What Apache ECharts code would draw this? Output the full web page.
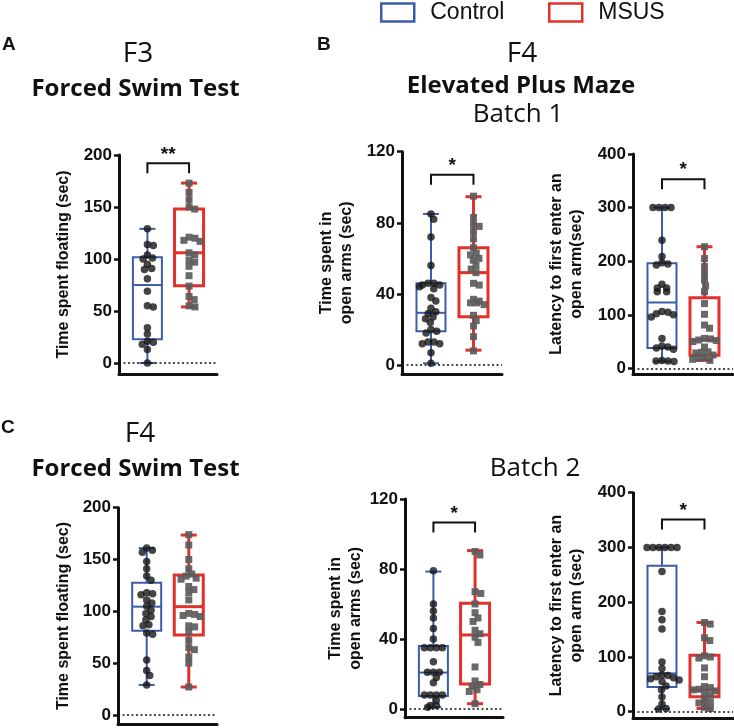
<!DOCTYPE html>
<html><head><meta charset="utf-8">
<script src="https://cdn.jsdelivr.net/npm/echarts@6/dist/echarts.min.js"></script>
<style>html,body{margin:0;padding:0;background:#fff}#c{width:734px;height:728px}</style>
</head><body><div id="c"></div>
<script>
const groups = ['Control', 'MSUS'];

// Tick labels
const ticksFst = [0, 50, 100, 150, 200];
const ticksTime = [0, 40, 80, 120];
const ticksLatency = [0, 100, 200, 300, 400];

// A: F3 Forced Swim Test - time spent floating (sec)
const fstF3Control = [129, 114, 113, 104, 101, 100, 95, 91, 90, 81, 69, 55, 54, 34, 28, 21, 20, 18, 13, 0];
const fstF3Msus = [173, 164, 157, 150, 148, 121, 120, 118, 117, 106, 104, 99, 97, 93, 84, 74, 64, 61, 55, 54];
// box: [min, Q1, median, Q3, max]
const fstF3ControlBox = [0, 22.8, 75, 101.6, 129];
const fstF3MsusBox = [54, 74.4, 106, 148, 173];

// B: F4 Elevated Plus Maze, Batch 1 - time in open arms (sec)
const epm1TimeControl = [85, 82, 72, 56, 46, 46, 45, 45, 44, 43, 38, 36, 32, 30, 29, 27, 26, 24, 20, 19, 18, 13, 13, 12, 12, 7, 1];
const epm1TimeMsus = [95, 83, 79, 78, 75, 71, 66, 63, 62, 60, 59, 56, 54, 52, 46, 45, 37, 36, 35, 35, 34, 28, 25, 22, 16, 8];
const epm1TimeControlBox = [1, 19, 29.4, 46, 85];
const epm1TimeMsusBox = [8.4, 27.2, 52, 66, 94.7];

// B: Batch 1 - latency to first enter an open arm (sec)
const epm1LatControl = [300, 300, 300, 300, 239, 209, 197, 195, 193, 157, 150, 150, 143, 143, 106, 105, 102, 100, 96, 56, 42, 40, 38, 36, 15, 14, 14, 13];
const epm1LatMsus = [227, 205, 190, 177, 165, 154, 143, 121, 101, 81, 75, 56, 55, 53, 52, 50, 40, 31, 30, 29, 25, 20, 19, 17, 15];
const epm1LatControlBox = [13, 38, 123, 196, 300];
const epm1LatMsusBox = [15, 24.8, 53.5, 131.7, 227];

// C: F4 Forced Swim Test - time spent floating (sec)
const fstF4Control = [161, 159, 157, 148, 141, 134, 130, 118, 117, 116, 111, 108, 105, 101, 98, 95, 92, 87, 86, 79, 78, 53, 43, 38, 29];
const fstF4Msus = [174, 164, 150, 141, 136, 134, 132, 131, 124, 121, 118, 111, 98, 97, 96, 95, 86, 85, 80, 72, 65, 63, 56, 50, 27];
const fstF4ControlBox = [29, 81.3, 104.5, 127.6, 161];
const fstF4MsusBox = [27, 77.1, 104.5, 135, 173.6];

// Batch 2 - time in open arms (sec)
const epm2TimeControl = [79, 60, 56, 52, 46, 40, 35, 35, 35, 35, 27, 21, 21, 21, 18, 15, 8, 8, 8, 8, 5, 2, 2, 1];
const epm2TimeMsus = [90, 88, 67, 66, 60, 55, 52, 50, 45, 43, 41, 38, 24, 16, 14, 13, 11, 10, 3];
const epm2TimeControlBox = [1, 7.4, 20.8, 36, 78.5];
const epm2TimeMsusBox = [3, 14.3, 42.3, 60.4, 90.5];

// Batch 2 - latency to first enter an open arm (sec)
const epm2LatControl = [300, 300, 300, 300, 300, 300, 256, 183, 168, 151, 91, 79, 67, 66, 64, 62, 60, 58, 55, 47, 40, 27, 14, 6, 5];
const epm2LatMsus = [163, 160, 135, 130, 102, 100, 98, 80, 64, 46, 44, 41, 40, 38, 33, 31, 20, 18, 16, 8, 6];
const epm2LatControlBox = [5, 45, 70, 266.7, 300];
const epm2LatMsusBox = [6, 27.4, 40, 103, 163];

// significance brackets (height in axis units) and labels
const sigHeights = [192, 107, 353, null, 106.5, 351];
const sigLabels = ['**', '*', '*', '', '*', '*'];

const BLUE = '#3d5ca8', RED = '#e3302a', INK = '#111';
const XMIN = -0.682, XMAX = 1.671;

const panels = [
  {grid: {left: 119, top: 155, width: 98, height: 219}, yMin: -10.5, yMax: 200, ticks: ticksFst,
   name: 'Time spent floating (sec)', nameGap: 45, ctrl: fstF3Control, msus: fstF3Msus, cBox: fstF3ControlBox, mBox: fstF3MsusBox},
  {grid: {left: 402, top: 151.7, width: 100, height: 222.3}, yMin: -5, yMax: 120, ticks: ticksTime,
   name: 'Time spent in\nopen arms (sec)', nameGap: 45, ctrl: epm1TimeControl, msus: epm1TimeMsus, cBox: epm1TimeControlBox, mBox: epm1TimeMsusBox},
  {grid: {left: 633, top: 154, width: 100, height: 220}, yMin: -10.4, yMax: 400, ticks: ticksLatency,
   name: 'Latency to first enter an\nopen arm(sec)', nameGap: 46, ctrl: epm1LatControl, msus: epm1LatMsus, cBox: epm1LatControlBox, mBox: epm1LatMsusBox},
  {grid: {left: 118, top: 507.7, width: 99, height: 216.6}, yMin: -9, yMax: 200, ticks: ticksFst,
   name: 'Time spent floating (sec)', nameGap: 44, ctrl: fstF4Control, msus: fstF4Msus, cBox: fstF4ControlBox, mBox: fstF4MsusBox},
  {grid: {left: 405, top: 499, width: 98, height: 218.7}, yMin: -5, yMax: 120, ticks: ticksTime,
   name: 'Time spent in\nopen arms (sec)', nameGap: 38, ctrl: epm2TimeControl, msus: epm2TimeMsus, cBox: epm2TimeControlBox, mBox: epm2TimeMsusBox},
  {grid: {left: 633, top: 492.7, width: 100, height: 225.6}, yMin: -12, yMax: 400, ticks: ticksLatency,
   name: 'Latency to first enter an\nopen arm (sec)', nameGap: 46, ctrl: epm2LatControl, msus: epm2LatMsus, cBox: epm2LatControlBox, mBox: epm2LatMsusBox}
];

// deterministic beeswarm (pixel offsets) so overlapping points are spread sideways
function swarm(values, pxPerY, d) {
  const idx = values.map((v, i) => i).sort((a, b) => values[b] - values[a]);
  const placed = [];
  const off = new Array(values.length).fill(0);
  for (const i of idx) {
    const y = values[i] * pxPerY;
    const ints = [];
    for (const p of placed) {
      const dy = Math.abs(p.y - y);
      if (dy < d) { const w = Math.sqrt(d * d - dy * dy); ints.push([p.x - w, p.x + w]); }
    }
    const cands = [0];
    ints.forEach(t => { cands.push(t[0], t[1]); });
    cands.sort((a, b) => (Math.abs(a) - Math.abs(b)) || (b - a));
    let x = 0;
    for (const c of cands) {
      if (!ints.some(t => c > t[0] + 1e-6 && c < t[1] - 1e-6)) { x = c; break; }
    }
    placed.push({x, y});
    off[i] = x;
  }
  // centre groups of identical values
  const byVal = {};
  values.forEach((v, i) => { (byVal[v] = byVal[v] || []).push(i); });
  Object.values(byVal).forEach(g => {
    if (g.length > 1) {
      const m = g.reduce((s, i) => s + off[i], 0) / g.length;
      g.forEach(i => { off[i] -= m; });
    }
  });
  return off;
}

function boxRender(color, lw) {
  return function (params, api) {
    const x = api.value(0);
    const pMin = api.coord([x, api.value(1)]);
    const pQ1 = api.coord([x, api.value(2)]);
    const pMed = api.coord([x, api.value(3)]);
    const pQ3 = api.coord([x, api.value(4)]);
    const pMax = api.coord([x, api.value(5)]);
    const hw = 14.5, cw = 8;
    const cx = pMed[0];
    const st = () => ({stroke: color, lineWidth: lw, fill: 'none'});
    return {type: 'group', children: [
      {type: 'rect', shape: {x: cx - hw, y: pQ3[1], width: 2 * hw, height: pQ1[1] - pQ3[1]}, style: st()},
      {type: 'line', shape: {x1: cx - hw, y1: pMed[1], x2: cx + hw, y2: pMed[1]}, style: st()},
      {type: 'line', shape: {x1: cx, y1: pQ3[1], x2: cx, y2: pMax[1]}, style: st()},
      {type: 'line', shape: {x1: cx, y1: pQ1[1], x2: cx, y2: pMin[1]}, style: st()},
      {type: 'line', shape: {x1: cx - cw, y1: pMax[1], x2: cx + cw, y2: pMax[1]}, style: st()},
      {type: 'line', shape: {x1: cx - cw, y1: pMin[1], x2: cx + cw, y2: pMin[1]}, style: st()}
    ]};
  };
}

function bracketRender(label) {
  return function (params, api) {
    const h = api.value(1);
    const p0 = api.coord([0, h]);
    const p1 = api.coord([1, h]);
    const drop = 10;
    return {type: 'group', children: [
      {type: 'polyline', shape: {points: [[p0[0], p0[1] + drop], [p0[0], p0[1]], [p1[0], p1[1]], [p1[0], p1[1] + drop]]},
       style: {stroke: INK, lineWidth: 2, fill: 'none'}},
      {type: 'text', x: (p0[0] + p1[0]) / 2, y: p0[1] - 9,
       style: {text: label, align: 'center', verticalAlign: 'middle', fontSize: 19, fontWeight: 'bold', fontFamily: 'Liberation Sans', fill: INK}}
    ]};
  };
}

const grids = [], xAxes = [], yAxes = [], series = [];
panels.forEach((p, k) => {
  grids.push(Object.assign({containLabel: false}, p.grid));
  xAxes.push({type: 'value', gridIndex: k, min: XMIN, max: XMAX,
    axisLine: {show: true, onZero: false, lineStyle: {color: INK, width: 3}},
    axisTick: {show: false}, axisLabel: {show: false}, splitLine: {show: false}});
  yAxes.push({type: 'value', gridIndex: k, min: p.yMin, max: p.yMax,
    name: p.name, nameLocation: 'middle', nameRotate: 90, nameGap: p.nameGap,
    nameTextStyle: {fontSize: 16, fontWeight: 'bold', fontFamily: 'Liberation Sans', color: INK, lineHeight: 20},
    axisLine: {show: true, onZero: false, lineStyle: {color: INK, width: 3}},
    axisTick: {show: true, length: 5, customValues: p.ticks, lineStyle: {color: INK, width: 2.5}},
    axisLabel: {show: true, customValues: p.ticks, margin: 7, fontSize: 17, fontWeight: 'bold', fontFamily: 'Liberation Sans', color: INK},
    splitLine: {show: false}});
  const pxPerY = p.grid.height / (p.yMax - p.yMin);
  const xPerPx = (XMAX - XMIN) / p.grid.width;
  const cOff = swarm(p.ctrl, pxPerY, 6);
  const mOff = swarm(p.msus, pxPerY, 6);
  series.push({type: 'custom', name: groups[0], xAxisIndex: k, yAxisIndex: k, renderItem: boxRender(BLUE, 2),
    itemStyle: {color: BLUE}, encode: {x: 0, y: 3},
    data: [[0].concat(p.cBox)], z: 2,
    markLine: {silent: true, symbol: ['none', 'none'], label: {show: false},
      lineStyle: {type: [2, 2.5], color: INK, width: 1.5}, data: [{yAxis: 0}]}});
  series.push({type: 'custom', name: groups[1], xAxisIndex: k, yAxisIndex: k, renderItem: boxRender(RED, 3),
    itemStyle: {color: RED}, encode: {x: 0, y: 3},
    data: [[1].concat(p.mBox)], z: 2});
  series.push({type: 'scatter', xAxisIndex: k, yAxisIndex: k, symbol: 'circle', symbolSize: 7.5, z: 3,
    itemStyle: {color: '#161616'}, data: p.ctrl.map((v, i) => [0 + cOff[i] * xPerPx, v])});
  series.push({type: 'scatter', xAxisIndex: k, yAxisIndex: k, symbol: 'rect', symbolSize: 7, z: 3,
    itemStyle: {color: '#5c5c5c', opacity: 0.92}, data: p.msus.map((v, i) => [1 + mOff[i] * xPerPx, v])});
  if (sigHeights[k] !== null) {
    series.push({type: 'custom', xAxisIndex: k, yAxisIndex: k, clip: false, renderItem: bracketRender(sigLabels[k]),
      encode: {x: 0, y: 1}, data: [[0.5, sigHeights[k]]], z: 4, silent: true});
  }
});

const headFont = '"Open Sans", "Noto Sans", sans-serif';
function txt(text, x, y, size, weight, align, family) {
  return {type: 'text', x: x, y: y, silent: true,
    style: {text: text, fontSize: size, fontWeight: weight, fontFamily: family || headFont, fill: INK,
      textAlign: align, textVerticalAlign: 'middle'}};
}

const option = {
  animation: false,
  backgroundColor: '#fff',
  grid: grids, xAxis: xAxes, yAxis: yAxes, series: series,
  legend: [
    {data: [groups[0]], left: 380, top: 1, padding: 0, icon: 'rect', itemWidth: 33, itemHeight: 18, selectedMode: false,
     itemStyle: {color: '#fff', borderColor: BLUE, borderWidth: 2.5},
     textStyle: {fontSize: 23, fontFamily: 'Liberation Sans', color: INK, padding: [0, 0, 0, 11]}},
    {data: [groups[1]], left: 548, top: 1, padding: 0, icon: 'rect', itemWidth: 33, itemHeight: 18, selectedMode: false,
     itemStyle: {color: '#fff', borderColor: RED, borderWidth: 2.5},
     textStyle: {fontSize: 23, fontFamily: 'Liberation Sans', color: INK, padding: [0, 0, 0, 11]}}
  ],
  graphic: [
    txt('A', 2, 45, 19, 'bold', 'left', 'Liberation Sans'),
    txt('F3', 138, 54, 28, 'normal', 'center'),
    txt('Forced Swim Test', 135.5, 89, 24, 'bold', 'center'),
    txt('B', 317, 45, 19, 'bold', 'left', 'Liberation Sans'),
    txt('F4', 522, 54, 28, 'normal', 'center'),
    txt('Elevated Plus Maze', 521, 86, 24, 'bold', 'center'),
    txt('Batch 1', 518, 115, 26, 'normal', 'center'),
    txt('C', 1, 428, 19, 'bold', 'left', 'Liberation Sans'),
    txt('F4', 140, 434, 28, 'normal', 'center'),
    txt('Forced Swim Test', 135.5, 469, 24, 'bold', 'center'),
    txt('Batch 2', 535, 469, 26, 'normal', 'center')
  ]
};

const chart = echarts.init(document.getElementById('c'), null, {renderer: 'canvas'});
chart.setOption(option);
</script>
</body></html>
